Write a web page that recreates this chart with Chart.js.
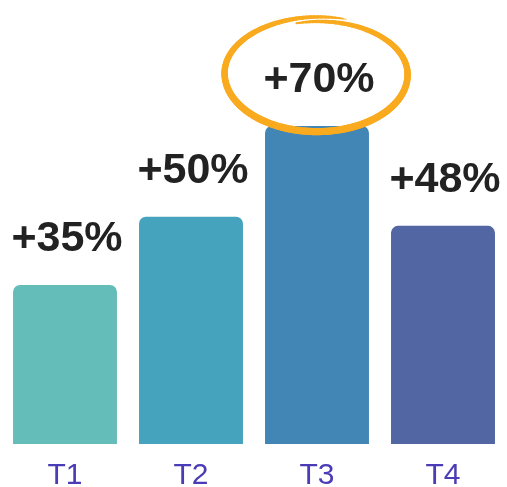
<!DOCTYPE html>
<html>
<head>
<meta charset="utf-8">
<script src="https://cdn.jsdelivr.net/npm/chart.js@4"></script>
<style>
  html, body { margin: 0; padding: 0; background: #fff; }
  #wrap { width: 507px; height: 487px; }
</style>
</head>
<body>
<div id="wrap"><canvas id="growthChart"></canvas></div>
<script>
const quarters = ["T1", "T2", "T3", "T4"];
const growth = [35, 50, 70, 48];
const barColors = ["#65bdb9", "#45a3bd", "#4286b6", "#5266a3"];
const highlightIndex = 2; // circled quarter

// "+35%" style labels sitting above each bar
const valueLabels = {
  id: "valueLabels",
  afterDatasetsDraw(chart) {
    const { ctx } = chart;
    const meta = chart.getDatasetMeta(0);
    ctx.save();
    ctx.font = "bold 43px 'Liberation Sans', Arial, sans-serif";
    ctx.fillStyle = "#222222";
    ctx.textAlign = "center";
    ctx.textBaseline = "alphabetic";
    meta.data.forEach((bar, i) => {
      ctx.fillText("+" + growth[i] + "%", bar.x + 2, bar.y - 34);
    });
    ctx.restore();
  },
};

// hand-drawn orange loop around the highlighted label
const markerCircle = {
  id: "markerCircle",
  afterDatasetsDraw(chart) {
    const { ctx } = chart;
    const bar = chart.getDatasetMeta(0).data[highlightIndex];
    const cx = bar.x + 1, cy = bar.y - 52;
    const rx = 92, ry = 55;
    const start = -Math.PI / 2 - 0.25;
    const sweep = Math.PI * 2 + 0.55;
    const steps = 180;
    ctx.save();
    ctx.strokeStyle = "#f9aa1e";
    ctx.lineCap = "round";
    let prev = null;
    for (let s = 0; s <= steps; s++) {
      const t = s / steps;
      const a = start + sweep * t;
      const drift = 1 - 0.05 + 0.09 * t;
      const p = {
        x: cx + rx * drift * Math.cos(a),
        y: cy + ry * drift * Math.sin(a) + (Math.sin(a) > 0 ? 3 * Math.sin(a) : 0),
      };
      if (prev) {
        ctx.lineWidth = 0.8 + 6.4 * Math.pow(Math.sin(Math.PI * t), 0.45);
        ctx.beginPath();
        ctx.moveTo(prev.x, prev.y);
        ctx.lineTo(p.x, p.y);
        ctx.stroke();
      }
      prev = p;
    }
    ctx.restore();
  },
};

new Chart(document.getElementById("growthChart"), {
  type: "bar",
  data: {
    labels: quarters,
    datasets: [
      {
        data: growth,
        backgroundColor: barColors,
        borderRadius: { topLeft: 7, topRight: 7 },
        borderSkipped: "bottom",
        barPercentage: 0.825,
        categoryPercentage: 1,
      },
    ],
  },
  options: {
    responsive: true,
    maintainAspectRatio: false,
    animation: false,
    layout: { padding: { top: 35, left: 2, right: 1, bottom: 0 } },
    plugins: { legend: { display: false }, tooltip: { enabled: false } },
    scales: {
      x: {
        grid: { display: false, drawTicks: false },
        border: { display: false },
        ticks: {
          color: "#4a3bb6",
          padding: 14,
          font: { family: "'Liberation Sans', Arial, sans-serif", size: 30 },
        },
        afterFit(scale) {
          scale.height = 43;
        },
      },
      y: {
        display: false,
        min: 0,
        max: 90,
      },
    },
  },
  plugins: [valueLabels, markerCircle],
});
</script>
</body>
</html>
